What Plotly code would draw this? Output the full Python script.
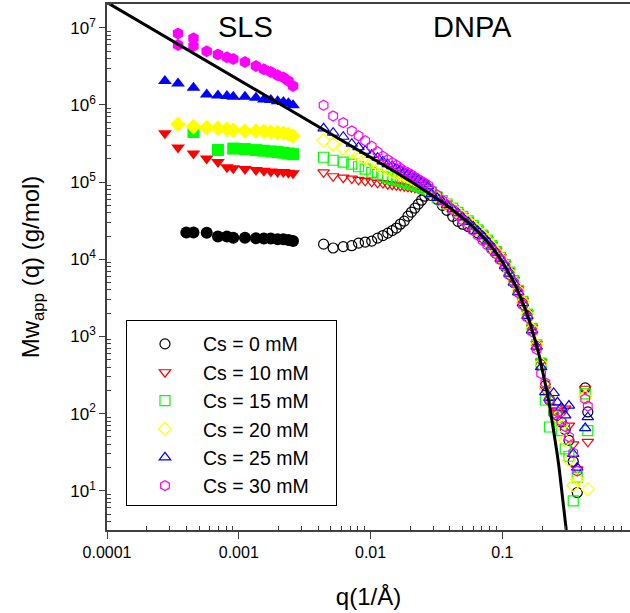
import math
import plotly.graph_objects as go

# ---------------- data ----------------
series_names = ["Cs = 0 mM", "Cs = 10 mM", "Cs = 15 mM", "Cs = 20 mM", "Cs = 25 mM", "Cs = 30 mM"]
series_colors = ["#000000", "#FF0000", "#00FF00", "#FFFF00", "#0000FF", "#FF00FF"]
sls_symbols = ["circle", "triangle-down", "square", "diamond", "triangle-up", "hexagon"]
dnpa_symbols = ["circle-open", "triangle-down-open", "square-open", "diamond-open", "triangle-up-open", "hexagon-open"]

# SLS (filled symbols)
sls_q_0 = [4.0e-4, 4.53e-4, 5.71e-4, 6.95e-4, 8.13e-4, 9.08e-4, 1.114e-3, 1.35e-3, 1.55e-3, 1.75e-3, 1.97e-3, 2.18e-3, 2.38e-3, 2.58e-3]
sls_m_0 = [2.23e4, 2.23e4, 2.2e4, 1.97e4, 1.97e4, 1.9e4, 1.9e4, 1.87e4, 1.86e4, 1.86e4, 1.82e4, 1.82e4, 1.78e4, 1.73e4]
sls_q_10 = [2.75e-4, 3.46e-4, 4.53e-4, 5.71e-4, 6.95e-4, 8.13e-4, 9.08e-4, 1.114e-3, 1.35e-3, 1.55e-3, 1.75e-3, 1.97e-3, 2.18e-3, 2.38e-3, 2.58e-3]
sls_m_10 = [4.29e5, 2.8e5, 2.34e5, 2.02e5, 1.82e5, 1.56e5, 1.51e5, 1.48e5, 1.43e5, 1.40e5, 1.37e5, 1.35e5, 1.35e5, 1.32e5, 1.30e5]
sls_q_15 = [4.53e-4, 6.95e-4, 9.08e-4, 1.114e-3, 1.35e-3, 1.55e-3, 1.75e-3, 1.97e-3, 2.18e-3, 2.38e-3, 2.58e-3]
sls_m_15 = [4.46e5, 2.61e5, 2.72e5, 2.68e5, 2.6e5, 2.55e5, 2.5e5, 2.45e5, 2.4e5, 2.35e5, 2.3e5]
sls_q_20 = [3.46e-4, 4.53e-4, 5.71e-4, 6.95e-4, 8.13e-4, 9.08e-4, 1.114e-3, 1.35e-3, 1.55e-3, 1.75e-3, 1.97e-3, 2.18e-3, 2.38e-3, 2.58e-3]
sls_m_20 = [5.6e5, 5.24e5, 5.08e5, 5.0e5, 4.83e5, 4.7e5, 4.59e5, 4.59e5, 4.52e5, 4.45e5, 4.38e5, 4.3e5, 4.17e5, 3.96e5]
sls_q_25 = [2.75e-4, 3.46e-4, 4.53e-4, 5.71e-4, 6.95e-4, 8.13e-4, 9.08e-4, 1.114e-3, 1.35e-3, 1.55e-3, 1.75e-3, 1.97e-3, 2.18e-3, 2.38e-3, 2.58e-3]
sls_m_25 = [2.04e6, 1.9e6, 1.67e6, 1.37e6, 1.33e6, 1.31e6, 1.28e6, 1.28e6, 1.24e6, 1.18e6, 1.16e6, 1.12e6, 1.09e6, 1.05e6, 0.99e6]
sls_q_30 = [3.46e-4, 3.46e-4, 4.53e-4, 4.53e-4, 5.71e-4, 6.95e-4, 8.13e-4, 9.08e-4, 1.114e-3, 1.35e-3, 1.55e-3, 1.75e-3, 1.97e-3, 2.18e-3, 2.38e-3, 2.58e-3]
sls_m_30 = [8.4e6, 6.0e6, 7.3e6, 5.8e6, 4.98e6, 4.5e6, 4.15e6, 3.95e6, 3.59e6, 3.19e6, 2.89e6, 2.67e6, 2.42e6, 2.26e6, 2.04e6, 1.76e6]

# DNPA (open symbols), shared q grid
dnpa_q = [0.0044, 0.0052, 0.0062, 0.0072, 0.0081, 0.0091, 0.0102, 0.0113, 0.0124, 0.0135, 0.0146,
          0.0157, 0.0168, 0.0180, 0.0192, 0.0204, 0.0217, 0.0230, 0.0244, 0.0258, 0.0273,
          0.029, 0.032, 0.035, 0.038, 0.042, 0.046, 0.050, 0.055, 0.060, 0.065, 0.071, 0.077,
          0.083, 0.090, 0.097, 0.105, 0.113, 0.122,
          0.132, 0.143, 0.155, 0.168, 0.182, 0.197, 0.212, 0.228, 0.245, 0.262, 0.280, 0.300,
          0.320, 0.345, 0.370, 0.425, 0.445]
dnpa_m_0 = [1.57e4, 1.4e4, 1.46e4, 1.5e4, 1.62e4, 1.67e4, 1.72e4, 1.88e4, 2.03e4, 2.18e4, 2.35e4,
            2.54e4, 2.85e4, 3.12e4, 3.62e4, 4.08e4, 4.6e4, 5.18e4, 5.83e4, 6.57e4, 7.18e4,
            6.7e4, 6.0e4, 5.0e4, 4.3e4, 3.6e4, 3.1e4, 2.85e4, 2.65e4, 2.45e4, 2.2e4, 1.92e4, 1.66e4,
            1.42e4, 1.19e4, 9.9e3, 8.0e3, 6.4e3, 5.0e3,
            3.8e3, 2.7e3, 1.85e3, 1.22e3, 750, 430, 230, 150, 115, 95, 78, 62,
            45, 24, 9.5, 215, 105]
dnpa_m_10 = [1.34e5, 1.19e5, 1.14e5, 1.11e5, 1.07e5, 1.04e5, 1.01e5, 9.8e4, 9.7e4, 9.4e4, 9.25e4,
             9.1e4, 8.98e4, 8.85e4, 8.7e4, 8.6e4, 8.46e4, 8.3e4, 8.2e4, 8.1e4, 7.85e4,
             7.3e4, 6.5e4, 5.8e4, 5.25e4, 4.6e4, 4.1e4, 3.65e4, 3.2e4, 2.8e4, 2.45e4, 2.1e4, 1.8e4,
             1.55e4, 1.3e4, 1.07e4, 8.7e3, 7.0e3, 5.4e3,
             4.1e3, 2.9e3, 2.0e3, 1.3e3, 800, 470, 200, 140, 120, 110, 100, 116,
             70, 40, 19, 210, 43]
dnpa_m_15 = [2.1e5, 1.92e5, 1.81e5, 1.71e5, 1.58e5, 1.47e5, 1.34e5, 1.26e5, 1.19e5, 1.14e5, 1.09e5,
             1.06e5, 1.03e5, 9.98e4, 9.7e4, 9.4e4, 9.1e4, 8.85e4, 8.6e4, 8.3e4, 8.0e4,
             7.4e4, 6.4e4, 5.75e4, 5.2e4, 4.6e4, 4.05e4, 3.6e4, 3.15e4, 2.75e4, 2.4e4, 2.05e4, 1.77e4,
             1.5e4, 1.26e4, 1.05e4, 8.5e3, 6.8e3, 5.3e3,
             3.95e3, 2.85e3, 1.95e3, 1.27e3, 780, 450, 150, 67, 110, 90, 60, 35,
             28, 7.4, 15, 180, 60]
dnpa_m_20 = [3.48e5, 3.09e5, 2.75e5, 2.44e5, 2.2e5, 2.01e5, 1.81e5, 1.66e5, 1.54e5, 1.45e5, 1.38e5,
             1.32e5, 1.26e5, 1.21e5, 1.16e5, 1.11e5, 1.06e5, 1.01e5, 9.7e4, 9.1e4, 8.6e4,
             7.1e4, 6.3e4, 5.65e4, 5.1e4, 4.5e4, 4.0e4, 3.55e4, 3.1e4, 2.7e4, 2.37e4, 2.03e4, 1.74e4,
             1.48e4, 1.24e4, 1.03e4, 8.4e3, 6.7e3, 5.2e3,
             3.9e3, 2.8e3, 1.92e3, 1.25e3, 770, 445, 220, 160, 120, 90, 70, 45,
             25, 11.7, 14, 165, 10.5]
dnpa_m_25 = [4.98e5, 4.36e5, 3.87e5, 3.14e5, 2.83e5, 2.55e5, 2.26e5, 2.07e5, 1.86e5, 1.71e5, 1.61e5,
             1.51e5, 1.43e5, 1.34e5, 1.26e5, 1.21e5, 1.14e5, 1.07e5, 1.01e5, 9.5e4, 8.85e4,
             7.0e4, 6.25e4, 5.6e4, 5.05e4, 4.45e4, 3.95e4, 3.5e4, 3.05e4, 2.66e4, 2.33e4, 2.0e4, 1.71e4,
             1.46e4, 1.22e4, 1.02e4, 8.2e3, 6.5e3, 5.0e3,
             3.75e3, 2.7e3, 1.85e3, 1.2e3, 740, 400, 190, 160, 185, 140, 120, 95,
             127, 30, 20, 65, 90]
dnpa_m_30 = [9.9e5, 7.2e5, 5.9e5, 4.6e5, 3.98e5, 3.43e5, 2.91e5, 2.47e5, 2.16e5, 1.95e5, 1.78e5,
             1.66e5, 1.51e5, 1.40e5, 1.32e5, 1.25e5, 1.16e5, 1.09e5, 1.03e5, 9.7e4, 9.1e4,
             7.9e4, 6.8e4, 5.8e4, 5.1e4, 4.4e4, 3.75e4, 3.2e4, 2.7e4, 2.35e4, 2.05e4, 1.75e4, 1.52e4,
             1.33e4, 1.17e4, 9.9e3, 8.2e3, 6.3e3, 5.0e3,
             3.7e3, 2.55e3, 1.75e3, 1.15e3, 680, 330, 250, 150, 100, 105, 80, 68,
             50, 31, 18, 155, 125]

# fitted curve
fit_q = [1.0e-4, 3e-4, 1e-3, 3e-3, 0.005, 0.01, 0.015, 0.02, 0.025, 0.03, 0.035, 0.04, 0.045, 0.05,
         0.055, 0.06, 0.065, 0.07, 0.075, 0.08, 0.085, 0.09, 0.10, 0.11, 0.12, 0.13, 0.14, 0.15,
         0.16, 0.17, 0.18, 0.19, 0.20, 0.21, 0.22, 0.23, 0.24, 0.25, 0.26, 0.27, 0.28, 0.29,
         0.30, 0.31, 0.32]
fit_m = [2.13e7, 7.1e6, 2.13e6, 7.1e5, 4.25e5, 2.12e5, 1.394e5, 1.03e5, 8.09e4, 6.6e4, 5.5e4, 4.66e4,
         4.0e4, 3.47e4, 3.02e4, 2.64e4, 2.31e4, 2.03e4, 1.79e4, 1.57e4, 1.38e4, 1.21e4, 9.33e3,
         7.14e3, 5.41e3, 4.06e3, 3.01e3, 2.22e3, 1.61e3, 1.155e3, 815, 571, 393, 267, 179, 118,
         76.9, 49.1, 30.9, 19.3, 11.8, 7.12, 4.23, 2.48, 1.43]

x_tick_vals = [1e-4, 1e-3, 1e-2, 1e-1]
x_tick_text = ["0.0001", "0.001", "0.01", "0.1"]
y_tick_vals = [1e1, 1e2, 1e3, 1e4, 1e5, 1e6, 1e7]
y_tick_text = ["10<sup>1</sup>", "10<sup>2</sup>", "10<sup>3</sup>", "10<sup>4</sup>",
               "10<sup>5</sup>", "10<sup>6</sup>", "10<sup>7</sup>"]

sls_q = [sls_q_0, sls_q_10, sls_q_15, sls_q_20, sls_q_25, sls_q_30]
sls_m = [sls_m_0, sls_m_10, sls_m_15, sls_m_20, sls_m_25, sls_m_30]
dnpa_m = [dnpa_m_0, dnpa_m_10, dnpa_m_15, dnpa_m_20, dnpa_m_25, dnpa_m_30]

FONT = "Liberation Sans, Arial, Helvetica, sans-serif"
AX = "#404040"
PAD = "\u00a0" * 4

fig = go.Figure()
for i in range(6):
    fig.add_trace(go.Scatter(
        x=sls_q[i], y=sls_m[i], mode="markers", showlegend=False,
        marker=dict(symbol=sls_symbols[i], color=series_colors[i], size=12, line=dict(width=0)),
    ))
for i in range(6):
    fig.add_trace(go.Scatter(
        x=dnpa_q, y=dnpa_m[i], mode="markers", name=series_names[i] + PAD,
        marker=dict(symbol=dnpa_symbols[i], color=series_colors[i], size=10,
                    line=dict(width=1.2, color=series_colors[i])),
    ))
fig.add_trace(go.Scatter(x=fit_q, y=fit_m, mode="lines", showlegend=False,
                         line=dict(color="black", width=3)))

x_minor = [m * 10 ** e for e in range(-4, 0) for m in range(2, 10) if m * 10 ** e < 0.85]
y_minor = [m * 10 ** e for e in range(0, 8) for m in range(2, 10)]

fig.update_layout(
    width=630, height=613,
    margin=dict(l=107, r=0, t=4, b=83),
    paper_bgcolor="white", plot_bgcolor="white",
    font=dict(family=FONT, color="black"),
    showlegend=True,
    legend=dict(x=0.0363, y=0.3996, xanchor="left", yanchor="top",
                bordercolor="black", borderwidth=1, bgcolor="white",
                font=dict(size=19.5, family=FONT), itemwidth=66, tracegroupgap=0,
                title=dict(text="\u00a0", font=dict(size=3))),
    xaxis=dict(type="log", range=[-4, math.log10(0.93)], showgrid=False, zeroline=False,
               showline=True, linecolor=AX, linewidth=1.5, mirror=True,
               ticks="outside", ticklen=7, tickwidth=1.2, tickcolor=AX,
               tickvals=x_tick_vals, ticktext=x_tick_text, tickfont=dict(size=16),
               minor=dict(ticks="inside", ticklen=4, tickwidth=1, tickcolor=AX, tickvals=x_minor, showgrid=False),
               title=dict(text="q(1/Å)", font=dict(size=24), standoff=28)),
    yaxis=dict(type="log", range=[0.4916, 7.308], showgrid=False, zeroline=False,
               showline=True, linecolor=AX, linewidth=1.5, mirror=False,
               ticks="outside", ticklen=6, tickwidth=1.2, tickcolor=AX,
               tickvals=y_tick_vals, ticktext=y_tick_text, tickfont=dict(size=17),
               minor=dict(ticks="inside", ticklen=4, tickwidth=1, tickcolor=AX, tickvals=y_minor, showgrid=False),
               title=dict(text="Mw<sub>app</sub> (q) (g/mol)", font=dict(size=24), standoff=24)),
    annotations=[
        dict(text="SLS", x=0.2639, y=0.957, xref="paper", yref="paper", showarrow=False,
             font=dict(size=29), xanchor="center", yanchor="middle"),
        dict(text="DNPA", x=0.698, y=0.957, xref="paper", yref="paper", showarrow=False,
             font=dict(size=29), xanchor="center", yanchor="middle"),
    ],
)

fig.write_html("out.html", config={"displayModeBar": False},
               post_script="document.body.style.margin='0px';document.body.style.overflow='hidden';")
